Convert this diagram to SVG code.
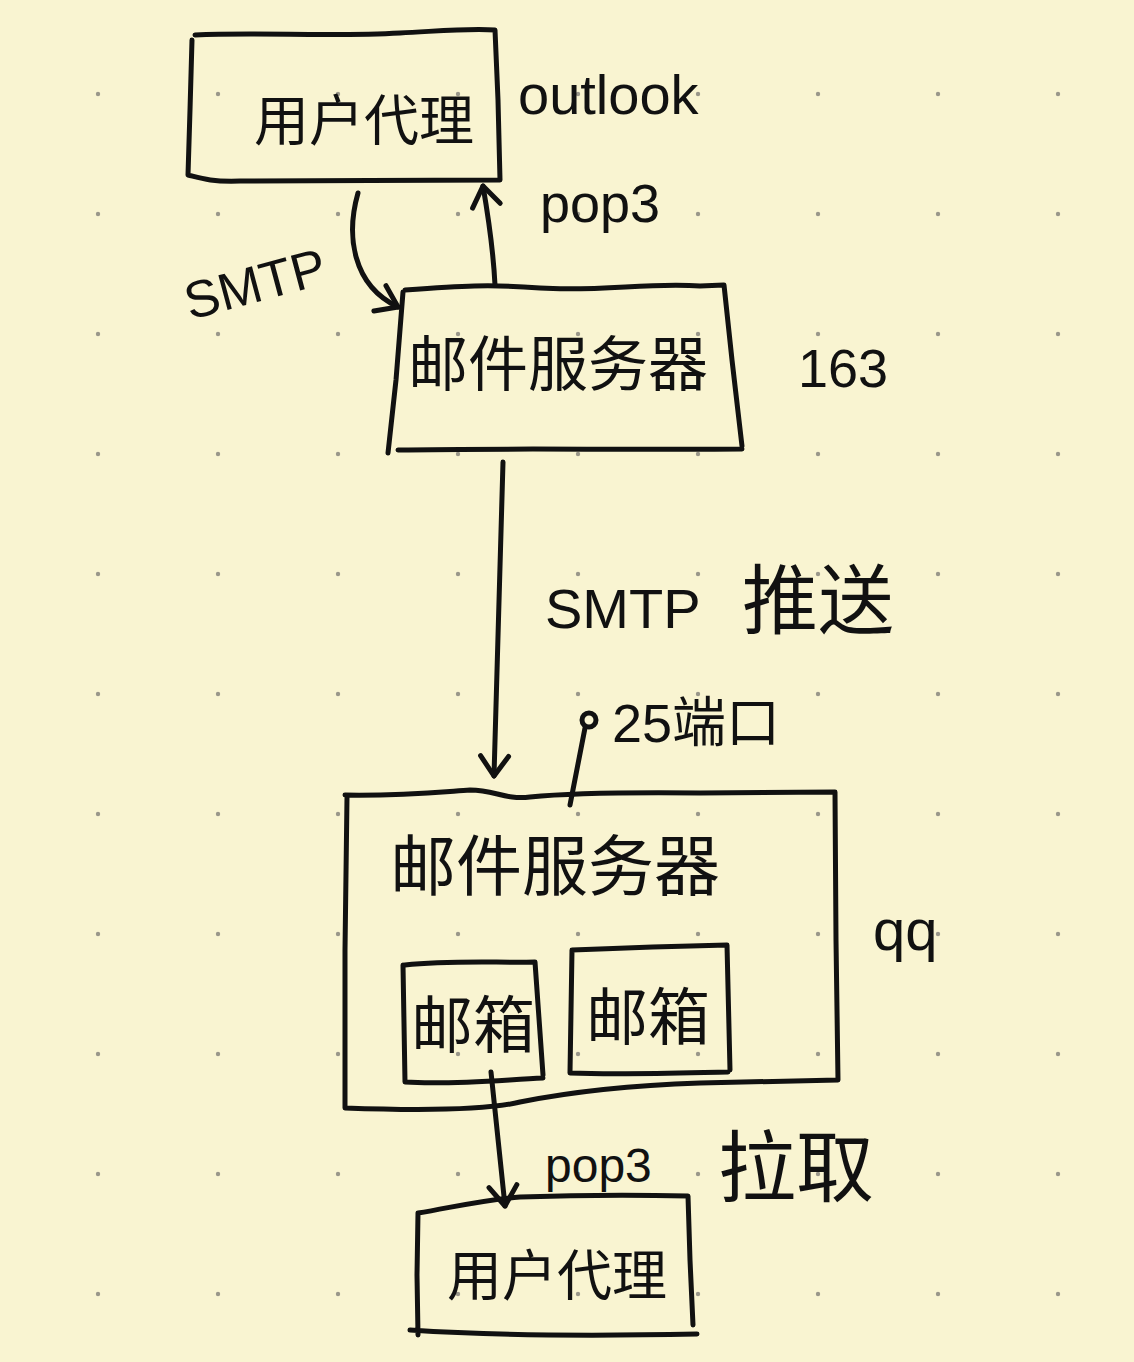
<svg xmlns="http://www.w3.org/2000/svg" width="1134" height="1362" viewBox="0 0 1134 1362">
<style>
.ln{fill:none;stroke:#111;stroke-width:5;stroke-linecap:round;stroke-linejoin:round}
.cj{font-family:"Noto Sans CJK SC","Noto Sans",sans-serif;fill:#111}
.lt{font-family:"Liberation Sans","DejaVu Sans",sans-serif;fill:#111}
</style>
<defs>
<pattern id="dots" x="0" y="0" width="120" height="120" patternUnits="userSpaceOnUse">
<circle cx="98" cy="94" r="2.2" fill="#9a978a"/>
</pattern>
<marker id="ah" viewBox="-24 -18 28 36" markerWidth="28" markerHeight="36" refX="0" refY="0" orient="auto" markerUnits="userSpaceOnUse">
<path d="M -20 -14 L 0 0 L -20 14" fill="none" stroke="#111" stroke-width="5" stroke-linecap="round" stroke-linejoin="round"/>
</marker>
</defs>
<rect width="1134" height="1362" fill="#f9f4d1"/>
<rect width="1134" height="1362" fill="url(#dots)"/>

<g id="agent-top">
<path class="ln" d="M195 35 C260 32 330 37 400 33 C440 31 470 28 495 30 L498 100 L500 180 M192 40 L190 110 L188 175 C200 178 210 182 240 181 C320 180 420 181 500 180"/>
<text class="cj" x="364" y="140" font-size="55" text-anchor="middle">用户代理</text>
</g>
<text class="lt" x="518" y="114" font-size="56">outlook</text>

<g id="server-163">
<path class="ln" d="M405 290 C460 286 490 284 540 288 C600 292 650 282 700 286 L724 285 L732 360 L742 446 M403 292 L396 380 L388 453 M398 450 C500 448 620 450 742 449"/>
<text class="cj" x="558" y="386" font-size="60" text-anchor="middle">邮件服务器</text>
</g>
<text class="lt" x="798" y="387" font-size="54">163</text>

<g id="server-qq">
<path class="ln" d="M345 795 C400 796 440 792 470 790 C495 790 505 800 530 797 C560 794 600 792 700 793 L835 792 L836 940 L838 1080 M347 797 L345 950 L345 1108 C400 1110 480 1112 520 1102 C580 1090 640 1085 700 1083 L838 1080"/>
<text class="cj" x="555" y="890" font-size="66" text-anchor="middle">邮件服务器</text>
</g>
<text class="lt" x="873" y="950" font-size="58">qq</text>

<g id="mailbox-1">
<path class="ln" d="M405 965 C450 960 500 963 535 962 L543 1075 M403 965 L405 1082 C450 1085 500 1080 543 1078"/>
<text class="cj" x="473" y="1048" font-size="62" text-anchor="middle">邮箱</text>
</g>
<g id="mailbox-2">
<path class="ln" d="M572 950 C620 948 680 946 727 945 L730 1070 M572 950 L570 1073 C620 1075 680 1073 728 1072"/>
<text class="cj" x="648" y="1040" font-size="62" text-anchor="middle">邮箱</text>
</g>

<g id="agent-bottom">
<path class="ln" d="M418 1213 C450 1208 480 1200 520 1197 C580 1195 640 1195 688 1196 L690 1260 L693 1325 M418 1213 L417 1275 L418 1335 M410 1330 C500 1336 600 1336 697 1334"/>
<text class="cj" x="557" y="1295" font-size="55" text-anchor="middle">用户代理</text>
</g>

<g id="connectors">
<path class="ln" d="M358 193 C346 235 352 285 398 307" marker-end="url(#ah)"/>
<path class="ln" d="M495 285 C493 245 488 215 483 186" marker-end="url(#ah)"/>
<path class="ln" d="M503 462 L494 776" marker-end="url(#ah)"/>
<path class="ln" d="M491 1072 L505 1206" marker-end="url(#ah)"/>
<path class="ln" d="M585 728 L570 805"/>
<circle class="ln" cx="589" cy="720" r="7"/>
</g>

<text class="lt" x="0" y="0" font-size="52" transform="translate(190 320) rotate(-15)">SMTP</text>
<text class="lt" x="540" y="222" font-size="54">pop3</text>
<text x="545" y="628" font-size="56"><tspan class="lt">SMTP</tspan><tspan class="cj" x="742" font-size="76">推送</tspan></text>
<text x="612" y="742" font-size="54"><tspan class="lt">25</tspan><tspan class="cj">端口</tspan></text>
<text class="lt" x="545" y="1182" font-size="48">pop3</text>
<text class="cj" x="718" y="1196" font-size="78">拉取</text>
</svg>
